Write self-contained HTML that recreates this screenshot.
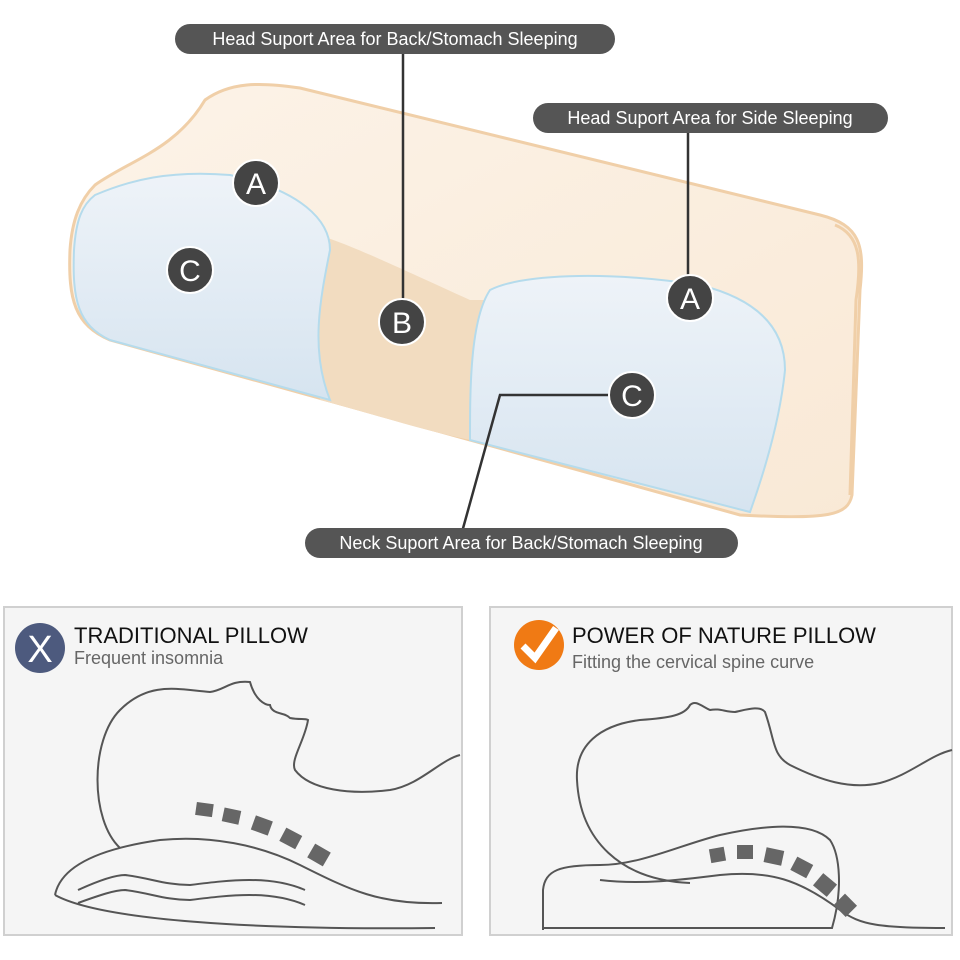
<!DOCTYPE html>
<html><head><style>
body{margin:0;background:#fff;}
svg{display:block;font-family:"Liberation Sans",sans-serif;}
</style></head><body>
<svg width="960" height="960" viewBox="0 0 960 960">
<defs>
<linearGradient id="pe" x1="0" y1="0" x2="1" y2="1"><stop offset="0" stop-color="#fcf3e8"/><stop offset="1" stop-color="#f9e9d6"/></linearGradient>
<linearGradient id="bl" x1="0" y1="0" x2="0" y2="1"><stop offset="0" stop-color="#eef3f8"/><stop offset="1" stop-color="#d6e4f0"/></linearGradient>
</defs>
<path d="M95,185 C130,160 175,150 205,100 C230,82 260,82 300,88 L820,215 C860,225 865,245 860,290 L852,495 C848,515 830,520 740,515 L110,340 C75,325 68,300 70,250 C72,220 80,200 95,185 Z" fill="url(#pe)" stroke="#f0cfa8" stroke-width="3"/>
<path d="M300,230 C340,240 360,250 470,300 L490,300 L470,440 C420,430 360,410 320,400 Z" fill="#f2dcc0"/>
<path d="M95,195 C130,180 170,170 230,175 C300,190 330,220 330,250 C320,300 310,350 330,400 L110,340 C78,325 72,300 74,250 C76,220 82,205 95,195 Z" fill="url(#bl)" stroke="#b5dbec" stroke-width="2"/>
<path d="M490,290 C520,275 600,270 700,285 C760,300 785,330 785,370 C780,420 765,470 750,512 L470,440 C470,390 470,320 490,290 Z" fill="url(#bl)" stroke="#b5dbec" stroke-width="2"/>
<path d="M835,225 C860,235 862,260 856,300 L850,495" fill="none" stroke="#f0cfa8" stroke-width="3"/>
<g stroke="#333" stroke-width="2.5" fill="none">
<line x1="403" y1="50" x2="403" y2="302"/>
<line x1="688" y1="130" x2="688" y2="278"/>
<polyline points="612,395 500,395 462,532"/>
</g>
<g fill="#555">
<rect x="175" y="24" width="440" height="30" rx="15"/>
<rect x="533" y="103" width="355" height="30" rx="15"/>
<rect x="305" y="528" width="433" height="30" rx="15"/>
</g>
<g fill="#fff" font-size="18" text-anchor="middle">
<text x="395" y="45">Head Suport Area for Back/Stomach Sleeping</text>
<text x="710" y="124">Head Suport Area for Side Sleeping</text>
<text x="521" y="549">Neck Suport Area for Back/Stomach Sleeping</text>
</g>
<g fill="#444" stroke="#fff" stroke-width="2">
<circle cx="256" cy="183" r="23"/><circle cx="190" cy="270" r="23"/><circle cx="402" cy="322" r="23"/><circle cx="690" cy="298" r="23"/><circle cx="632" cy="395" r="23"/>
</g>
<g fill="#fff" font-size="30" text-anchor="middle">
<text x="256" y="194">A</text><text x="190" y="281">C</text><text x="402" y="333">B</text><text x="690" y="309">A</text><text x="632" y="406">C</text>
</g>
<rect x="4" y="607" width="458" height="328" fill="#f5f5f5" stroke="#d0d0d0" stroke-width="2"/>
<rect x="490" y="607" width="462" height="328" fill="#f5f5f5" stroke="#d0d0d0" stroke-width="2"/>
<circle cx="40" cy="648" r="25" fill="#4d5a7e"/>
<text x="40" y="662" fill="#fff" font-size="38" text-anchor="middle">X</text>
<text x="74" y="643" font-size="22" fill="#111">TRADITIONAL PILLOW</text>
<text x="74" y="664" font-size="18" fill="#666">Frequent insomnia</text>
<circle cx="539" cy="645" r="25" fill="#f07a14"/>
<path d="M523,646 L535,658 L556,628" fill="none" stroke="#fff" stroke-width="7"/>
<text x="572" y="643" font-size="22" fill="#111">POWER OF NATURE PILLOW</text>
<text x="572" y="668" font-size="18" fill="#666">Fitting the cervical spine curve</text>
<g fill="none" stroke="#555" stroke-width="2">
<path d="M120,848 C90,820 90,740 120,710 C150,680 180,690 210,692 C225,690 230,680 250,682 C255,700 265,705 270,705 C272,715 285,712 290,718 C300,720 305,718 308,720 C305,740 290,760 295,770 C310,790 350,795 390,790 C420,785 440,760 460,755"/>
<path d="M55,895 C60,870 90,850 160,840 C210,835 260,845 300,865 C350,890 380,905 442,903"/>
<path d="M55,895 C100,920 250,930 435,928"/>
<path d="M78,890 C100,880 115,875 125,875 C150,878 165,885 190,885 C230,880 270,875 305,890"/>
<path d="M78,903 C100,895 115,890 125,890 C150,893 165,900 190,900 C230,895 270,890 305,905"/>
</g>
<g fill="#666">
<rect x="196" y="803" width="17" height="13" transform="rotate(8 204 809)"/>
<rect x="223" y="809" width="17" height="14" transform="rotate(12 231 816)"/>
<rect x="253" y="818" width="18" height="15" transform="rotate(20 262 825)"/>
<rect x="282" y="831" width="18" height="15" transform="rotate(28 291 838)"/>
<rect x="310" y="847" width="18" height="16" transform="rotate(30 319 855)"/>
</g>
<g fill="none" stroke="#555" stroke-width="2">
<path d="M690,883 C620,880 580,840 577,780 C575,745 600,725 640,720 C670,718 685,715 690,705 C695,700 700,705 710,710 C720,708 725,712 735,712 C745,710 760,705 765,712 C775,740 772,755 790,765 C820,780 850,790 880,783 C910,775 930,755 952,750"/>
<path d="M543,930 L543,890 C545,870 560,865 600,865 C640,865 680,845 720,835 C760,826 810,820 830,840 C840,855 843,890 832,928 L543,928"/>
<path d="M600,880 C640,885 680,880 720,875 C770,870 800,880 840,910 C860,925 880,928 945,928"/>
</g>
<g fill="#666">
<rect x="710" y="848" width="15" height="14" transform="rotate(-10 717 855)"/>
<rect x="737" y="845" width="16" height="14"/>
<rect x="765" y="849" width="18" height="15" transform="rotate(12 774 856)"/>
<rect x="793" y="860" width="18" height="15" transform="rotate(28 802 867)"/>
<rect x="816" y="877" width="18" height="16" transform="rotate(40 825 885)"/>
<rect x="837" y="897" width="17" height="16" transform="rotate(45 845 905)"/>
</g>
</svg>
</body></html>
